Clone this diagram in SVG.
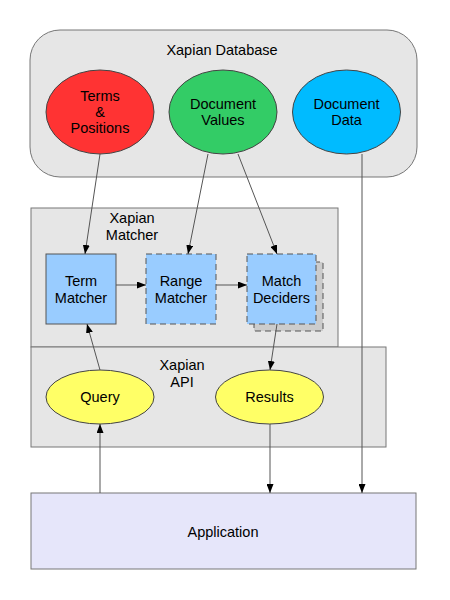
<svg xmlns="http://www.w3.org/2000/svg" width="450" height="600" viewBox="0 0 450 600">
<style>
text{font-family:"Liberation Sans",Arial,sans-serif;font-size:14.5px;fill:#000;text-anchor:middle}
.cont{fill:#e6e6e6;stroke:#777;stroke-width:1}
.box{fill:#99ccff;stroke:#555;stroke-width:1}
.dash{stroke-dasharray:6,4}
.ell{stroke:#444;stroke-width:1}
.c{fill:none;stroke:#555;stroke-width:1}
</style>
<defs>
<marker id="ah" viewBox="0 0 9 7" refX="9" refY="3.5" markerWidth="9" markerHeight="7" markerUnits="userSpaceOnUse" orient="auto">
<path d="M0,0 L9,3.5 L0,7 z" fill="#000"/>
</marker>
</defs>
<g id="database">
<rect class="cont" x="30" y="30" width="387" height="147" rx="30" ry="30"/>
<text x="222" y="55">Xapian Database</text>
</g>
<g id="matcher">
<rect class="cont" x="31" y="208" width="307" height="139"/>
<text x="132" y="223">Xapian</text>
<text x="132" y="240">Matcher</text>
</g>
<g id="api">
<rect class="cont" x="31" y="347" width="355" height="100"/>
<text x="182" y="370">Xapian</text>
<text x="182" y="387">API</text>
</g>
<g id="terms">
<ellipse class="ell" cx="100" cy="112" rx="54" ry="42" fill="#ff3333"/>
<text x="100" y="101">Terms</text>
<text x="100" y="117">&amp;</text>
<text x="100" y="133">Positions</text>
</g>
<g id="values">
<ellipse class="ell" cx="223" cy="112" rx="54" ry="42" fill="#33cc66"/>
<text x="223" y="109">Document</text>
<text x="223" y="125">Values</text>
</g>
<g id="data">
<ellipse class="ell" cx="346.5" cy="112" rx="54" ry="42" fill="#00bbff"/>
<text x="346.5" y="109">Document</text>
<text x="346.5" y="125">Data</text>
</g>
<g id="termmatcher">
<rect class="box" x="46" y="254" width="70" height="70"/>
<text x="81" y="286">Term</text>
<text x="81" y="303">Matcher</text>
</g>
<g id="rangematcher">
<rect class="box dash" x="146" y="254" width="70" height="70"/>
<text x="181" y="286">Range</text>
<text x="181" y="303">Matcher</text>
</g>
<g id="matchdeciders">
<rect x="254" y="262" width="69" height="69" fill="#cccccc" stroke="#555" stroke-width="1" class="dash"/>
<rect class="box dash" x="247" y="254" width="69" height="70"/>
<text x="281.5" y="286">Match</text>
<text x="281.5" y="303">Deciders</text>
</g>
<g id="query">
<ellipse class="ell" cx="100" cy="397" rx="54" ry="27" fill="#ffff66"/>
<text x="100" y="402">Query</text>
</g>
<g id="results">
<ellipse class="ell" cx="269.5" cy="397" rx="54" ry="27" fill="#ffff66"/>
<text x="269.5" y="402">Results</text>
</g>
<g id="application">
<rect x="31" y="493" width="385" height="76" fill="#e6e6fa" stroke="#777" stroke-width="1"/>
<text x="223" y="537">Application</text>
</g>
<g id="connectors">
<line class="c" x1="100" y1="154" x2="85" y2="254" marker-end="url(#ah)"/>
<line class="c" x1="208" y1="154" x2="188" y2="254" marker-end="url(#ah)"/>
<line class="c" x1="238" y1="154" x2="277" y2="254" marker-end="url(#ah)"/>
<line class="c" x1="362" y1="154" x2="362" y2="493" marker-end="url(#ah)"/>
<line class="c" x1="116" y1="285" x2="146" y2="285" marker-end="url(#ah)"/>
<line class="c" x1="216" y1="285" x2="247" y2="285" marker-end="url(#ah)"/>
<line class="c" x1="277" y1="324" x2="270" y2="370" marker-end="url(#ah)"/>
<line class="c" x1="100" y1="370" x2="87" y2="324" marker-end="url(#ah)"/>
<line class="c" x1="100" y1="493" x2="100" y2="424" marker-end="url(#ah)"/>
<line class="c" x1="270" y1="424" x2="270" y2="493" marker-end="url(#ah)"/>
</g>
</svg>
